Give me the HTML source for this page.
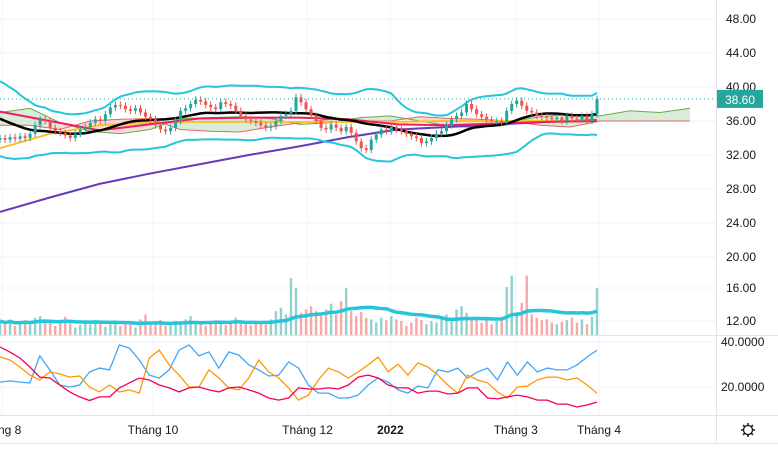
<!DOCTYPE html>
<html><head><meta charset="utf-8"><style>
html,body{margin:0;padding:0;background:#fff;width:778px;height:450px;overflow:hidden}
svg{display:block;font-family:"Liberation Sans",sans-serif}
</style></head><body>
<svg id="c" width="778" height="450"></svg>
<script>
const warmup=[39.0,38.8,38.5,38.6,38.0,37.5,37.6,37.0,36.5,36.8,36.0,35.5,35.8,35.0,34.6,34.2,34.5,34.0,33.6];
const closes=[34.0,33.8,34.1,33.9,34.2,34.0,34.5,35.5,36.2,36.0,35.2,34.8,34.6,34.3,34.0,34.5,35.0,35.3,35.8,36.2,36.0,36.8,37.6,37.9,37.8,37.4,37.2,37.5,37.0,36.5,36.2,35.5,35.0,34.8,35.2,36.0,37.2,37.5,38.0,38.5,38.3,37.9,37.6,37.4,38.2,38.0,37.8,37.2,36.6,36.2,36.0,35.8,35.5,35.2,35.4,36.0,36.6,36.8,37.2,38.8,38.2,37.4,36.6,36.0,35.2,35.0,35.6,35.2,34.8,35.3,34.6,33.6,32.8,32.6,33.8,34.4,35.0,34.8,35.3,35.0,34.8,34.5,34.2,34.0,33.4,33.6,34.0,34.5,34.8,35.5,36.2,36.6,37.0,38.0,37.4,36.8,36.5,36.2,36.0,36.0,35.8,37.2,38.0,38.4,37.8,37.2,37.0,36.6,36.5,36.4,36.2,36.4,36.0,36.6,36.3,36.2,36.6,36.0,36.8,38.6];
const volumes=[12.0,11.6,12.2,11.4,11.8,12.1,11.6,12.4,12.6,12.2,11.8,11.4,12.0,12.5,11.7,11.2,11.5,11.8,11.6,12.1,11.9,11.3,11.6,11.7,11.4,11.9,11.6,11.2,12.2,12.8,11.5,11.8,12.1,11.4,11.6,12.0,11.7,12.2,12.6,11.8,11.6,11.4,11.9,12.1,11.7,11.5,12.0,12.4,11.8,11.6,11.5,11.7,11.9,11.6,12.2,13.2,13.6,12.8,17.2,16.0,13.0,13.4,13.8,13.2,12.6,13.4,14.1,12.8,14.4,16.0,13.2,12.6,13.1,12.4,12.2,11.8,12.4,12.1,12.6,12.2,12.0,11.4,11.8,12.4,12.1,11.6,12.0,11.8,12.2,12.8,12.4,13.4,13.8,13.0,12.2,12.1,11.8,12.4,11.6,12.0,12.2,16.1,17.5,13.1,14.2,17.5,12.8,12.4,12.1,12.2,11.8,11.6,11.9,12.1,12.4,11.8,12.2,11.6,12.5,16.0];
const plusDI=[22.2,22.7,22.2,21.8,33.8,27.6,20.9,20,20.9,26.7,28.4,27.6,38.7,37.3,32,25.3,24,27.6,36.4,38.7,33.8,35.6,28.4,35.6,34.2,29.8,27.6,24.9,25.3,31.1,28.4,20.9,17.3,17.3,15.1,15.1,16.4,20.9,24,22.2,18.7,17.3,20.4,19.6,27.6,26.7,28.4,24,26.7,28.4,23.1,31.1,25.3,31.1,26.7,28.4,27.6,27.6,29.8,33.3,36.4];
const minusDI=[33.3,32,28.9,25.3,23.1,26.7,25.8,24.4,24.9,20,17.8,20.9,17.8,18.7,17.3,32.9,36.4,29.8,25.3,20,20,27.6,24,19.6,18.7,24,32,26.7,24,19.6,14.2,16.4,23.1,28.4,26.7,24,26.7,29.8,33.3,26.7,30.2,25.3,30.7,28.9,25.3,20.9,17.3,25.3,23.1,21.8,17.8,15.1,20,20.4,23.1,24.4,24.4,23.1,24,20.9,17.3];
const adx=[37.8,35.5,32.9,28.9,24.4,24,20.9,17.8,15.6,14,15.6,15.6,19.6,21.8,24,23.1,20.9,19.6,17.8,19.6,20,18.7,17.8,19.6,20,18.7,17.3,15.1,14.2,15.1,19.6,19.1,19.1,19.6,19.1,20.9,24.4,25.3,24,20.9,19.6,19.6,17.3,18.2,18.2,16.9,17.3,19.6,19.6,15.1,14.7,15.6,16.4,15.6,14.2,14.2,12.4,12.4,11.1,12,13.3];
const ma200=[25.3,27.0,28.6,29.8,30.9,32.0,33.0,34.1,35.0,35.3,35.6,35.9,36.1];
const ma100=[32.8,34.5,35.5,35.8,35.9,35.9,35.9,35.9,35.9,36.0,36.0,36.0,36.0];
const ma50=[37.1,36.0,34.9,35.6,36.3,36.4,36.4,36.2,35.6,35.5,35.7,35.9,36.0];
const spanA=[37.0,37.5,35.8,34.8,34.5,35.0,36.3,36.4,36.5,36.3,35.6,35.8,36.4,36.6,36.0,35.4,35.2,35.9,36.5,36.8,36.6,37.2,37.0,37.5];
const spanB=[35.5,35.5,35.0,36.0,36.2,36.3,35.0,34.8,34.7,35.3,35.8,36.2,36.0,36.0,36.5,36.3,36.2,36.0,35.5,35.3,36.0,36.0,36.0,36.0];
const priceTicks=["48.00","44.00","40.00","36.00","32.00","28.00","24.00","20.00"];
const priceTickVals=[48,44,40,36,32,28,24,20];
const volTicks=["16.00","12.00"];const volTickVals=[16,12];
const oscTicks=["40.0000","20.0000"];const oscTickVals=[40,20];
const monthLabels=["ng 8","Tháng 10","Tháng 12","2022","Tháng 3","Tháng 4"];
const monthIdx=[0.4,30.5,61.3,77.8,102.8,119.4];
const lastPrice="38.60";

const NS="http://www.w3.org/2000/svg",svg=document.getElementById('c');
function mk(t,a,p){const e=document.createElementNS(NS,t);for(const k in a)e.setAttribute(k,a[k]);(p||svg).appendChild(e);return e;}
const N=closes.length,PW=597;
const cx=i=>i*PW/(N-1);
const py=p=>87+(40-p)*8.5;
const vy=v=>321-(v-12)*8.25;
const oy=v=>342+(40-v)*2.25;
const sx=(i,n)=>i*PW/(n-1);
const line=(pts)=>pts.map((p,i)=>(i?'L':'M')+p[0].toFixed(1)+' '+p[1].toFixed(1)).join('');

const defs=mk('defs',{});const cp=mk('clipPath',{id:'cl'},defs);mk('rect',{x:0,y:0,width:716,height:335},cp);
const cp2=mk('clipPath',{id:'cl2'},defs);mk('rect',{x:0,y:335,width:716,height:80},cp2);

const grid=mk('g',{});
priceTickVals.forEach(v=>mk('line',{x1:0,x2:716,y1:py(v),y2:py(v),stroke:'#f0f3fa'},grid));
volTickVals.forEach(v=>mk('line',{x1:0,x2:716,y1:vy(v),y2:vy(v),stroke:'#f0f3fa'},grid));
oscTickVals.forEach(v=>mk('line',{x1:0,x2:716,y1:oy(v),y2:oy(v),stroke:'#f0f3fa'},grid));
monthIdx.forEach(m=>mk('line',{x1:cx(m),x2:cx(m),y1:0,y2:415,stroke:'#f0f3fa'},grid));

const main=mk('g',{'clip-path':'url(#cl)'});
const cw=690;const cloud=mk('g',{},main);
for(let i=0;i<spanA.length-1;i++){
 const x1=sx(i,spanA.length)*cw/PW,x2=sx(i+1,spanA.length)*cw/PW;
 const up=(spanA[i]+spanA[i+1])>=(spanB[i]+spanB[i+1]);
 mk('path',{d:`M${x1} ${py(spanA[i])}L${x2} ${py(spanA[i+1])}L${x2} ${py(spanB[i+1])}L${x1} ${py(spanB[i])}Z`,fill:up?'rgba(67,160,71,0.2)':'rgba(244,67,54,0.2)',stroke:'none'},cloud);
}
mk('path',{d:line(spanA.map((v,i)=>[sx(i,spanA.length)*cw/PW,py(v)])),fill:'none',stroke:'#6aa84f','stroke-width':1},cloud);
mk('path',{d:line(spanB.map((v,i)=>[sx(i,spanB.length)*cw/PW,py(v)])),fill:'none',stroke:'#e06666','stroke-width':1},cloud);

const vg=mk('g',{},main);
volumes.forEach((v,i)=>{const up=i==0||closes[i]>=closes[i-1];
 const b=mk('rect',{x:cx(i)-1.2,y:vy(v),width:2.4,height:335-vy(v),fill:up?'rgba(38,166,154,0.5)':'rgba(239,83,80,0.5)'},vg);
 });
const vma=volumes.map((v,i)=>{const s=volumes.slice(Math.max(0,i-19),i+1);return s.reduce((a,b)=>a+b,0)/s.length;});
const vml=mk('path',{d:line(vma.map((v,i)=>[cx(i),vy(v)])),fill:'none',stroke:'#26c6da','stroke-width':3.5},main);


[[ma200,'#673ab7','ma200'],[ma100,'#fbc02d','ma100'],[ma50,'#e91e63','ma50']].forEach(([arr,c,n])=>{
 const p=mk('path',{d:line(arr.map((v,i)=>[sx(i,arr.length),py(v)])),fill:'none',stroke:c,'stroke-width':2},main);
 });
const all=warmup.concat(closes),W=warmup.length;
const bb=closes.map((c,k)=>{const i=k+W;const s=all.slice(Math.max(0,i-19),i+1);const m=s.reduce((a,b)=>a+b,0)/s.length;const sd=Math.sqrt(s.reduce((a,b)=>a+(b-m)*(b-m),0)/s.length);return [m,m+2*sd+0.9,m-2*sd-0.9];});
const bu=mk('path',{d:line(bb.map((b,i)=>[cx(i),py(b[1])])),fill:'none',stroke:'#26c6da','stroke-width':2},main);

const bl=mk('path',{d:line(bb.map((b,i)=>[cx(i),py(b[2])])),fill:'none',stroke:'#26c6da','stroke-width':2},main);

const bm=mk('path',{d:line(bb.map((b,i)=>[cx(i),py(b[0])])),fill:'none',stroke:'#000','stroke-width':2.5},main);


const cg=mk('g',{},main);
closes.forEach((c,i)=>{const o=i?closes[i-1]:c-0.2;const up=c>=o;const col=up?'#26a69a':'#ef5350';
 const hi=Math.max(o,c)+0.4,lo=Math.min(o,c)-0.4,x=cx(i);
 mk('line',{x1:x,x2:x,y1:py(hi),y2:py(lo),stroke:col,'stroke-width':1},cg);
 const r=mk('rect',{x:x-1.5,y:py(Math.max(o,c)),width:3,height:Math.max(1,Math.abs(py(o)-py(c))),fill:col},cg);
 });
mk('line',{x1:0,x2:716,y1:py(closes[N-1]),y2:py(closes[N-1]),stroke:'#26a69a','stroke-dasharray':'1 3'});

const og=mk('g',{'clip-path':'url(#cl2)'});
[[plusDI,'#42a5f5','plus-di'],[minusDI,'#ff9800','minus-di'],[adx,'#f50057','adx']].forEach(([arr,c,n])=>{
 const p=mk('path',{d:line(arr.map((v,i)=>[sx(i,arr.length),oy(v)])),fill:'none',stroke:c,'stroke-width':1.3},og);
 });

mk('line',{x1:0,x2:778,y1:335.5,y2:335.5,stroke:'#e0e3eb'});
mk('line',{x1:0,x2:778,y1:415.5,y2:415.5,stroke:'#e0e3eb'});
mk('line',{x1:0,x2:778,y1:443.5,y2:443.5,stroke:'#e0e3eb'});
mk('line',{x1:716.5,x2:716.5,y1:0,y2:443,stroke:'#e0e3eb'});

const ax=mk('g',{});
priceTicks.forEach((t,i)=>{const e=mk('text',{x:726,y:py(priceTickVals[i])+4,'font-size':12,fill:'#131722'},ax);e.textContent=t;});
volTicks.forEach((t,i)=>{const e=mk('text',{x:726,y:vy(volTickVals[i])+4,'font-size':12,fill:'#131722'},ax);e.textContent=t;});
oscTicks.forEach((t,i)=>{const e=mk('text',{x:721,y:oy(oscTickVals[i])+4,'font-size':12,fill:'#131722'},ax);e.textContent=t;});
const badge=mk('g',{});
mk('rect',{x:717,y:py(closes[N-1])-9,width:46,height:18,fill:'#26a69a'},badge);
const bt=mk('text',{x:725,y:py(closes[N-1])+5,'font-size':12,fill:'#fff'},badge);bt.textContent=lastPrice;
const xg=mk('g',{});
monthLabels.forEach((t,i)=>{const e=mk('text',{x:cx(monthIdx[i]),y:434,'font-size':12,fill:'#131722','text-anchor':i==0?'start':'middle','font-weight':t=='2022'?'bold':'normal'},xg);
 if(i==0)e.setAttribute('x',-2);e.textContent=t;});
const gear=mk('g',{transform:'translate(748,430)'});
mk('circle',{cx:0,cy:0,r:4.5,fill:'none',stroke:'#131722','stroke-width':1.3},gear);
for(let k=0;k<8;k++){const a=k*Math.PI/4;mk('line',{x1:4.5*Math.cos(a),y1:4.5*Math.sin(a),x2:7*Math.cos(a),y2:7*Math.sin(a),stroke:'#131722','stroke-width':1.5},gear);}
</script>
</body></html>
